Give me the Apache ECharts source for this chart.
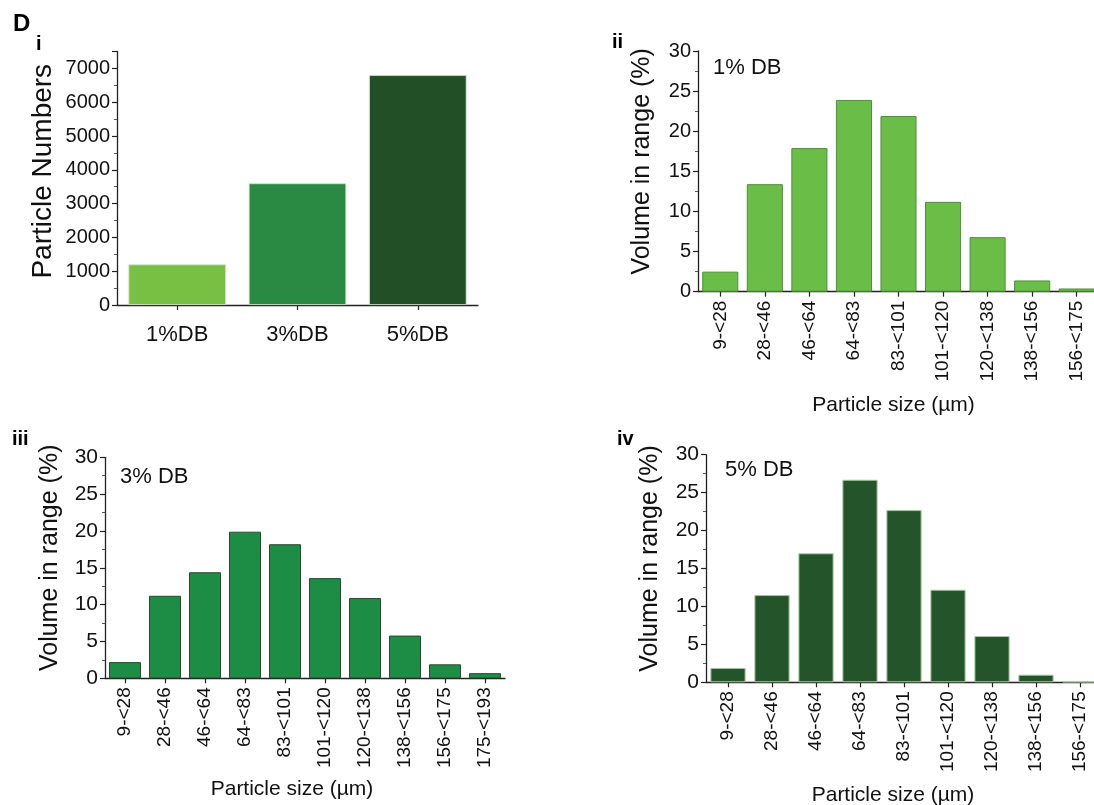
<!DOCTYPE html>
<html>
<head>
<meta charset="utf-8">
<script src="https://cdn.jsdelivr.net/npm/echarts@6/dist/echarts.min.js"></script>
<style>html,body{margin:0;padding:0;background:#fff}#c{width:1094px;height:805px}</style>
</head>
<body>
<div id="c"></div>
<script>
// ---- data ----
const groupCategories = ['1%DB', '3%DB', '5%DB'];
const particleNumbers = [1200, 3600, 6800];

const sizeBins9 = ['9-<28', '28-<46', '46-<64', '64-<83', '83-<101', '101-<120', '120-<138', '138-<156', '156-<175'];
const sizeBins10 = ['9-<28', '28-<46', '46-<64', '64-<83', '83-<101', '101-<120', '120-<138', '138-<156', '156-<175', '175-<193'];

const vol1 = [2.5, 13.4, 17.9, 23.9, 21.9, 11.2, 6.8, 1.4, 0.4];
const vol3 = [2.2, 11.2, 14.4, 19.9, 18.2, 13.6, 10.9, 5.8, 1.9, 0.7];
const vol5 = [1.9, 11.5, 17.0, 26.7, 22.7, 12.2, 6.1, 1.0, 0.1];

const FONT = "'Liberation Sans', Arial, Helvetica, sans-serif";
const INK = '#111';
const AX = '#222';

function valueAxis(gi, max, interval, name, nameGap, labelSize, nameSize, namePad) {
  return {
    gridIndex: gi, type: 'value', min: 0, max: max, interval: interval,
    name: name, nameLocation: 'middle', nameGap: nameGap,
    nameTextStyle: {fontFamily: FONT, fontSize: nameSize, color: INK, padding: namePad},
    axisLine: {show: true, lineStyle: {color: AX, width: 1.3}},
    axisTick: {show: true, length: 5, lineStyle: {color: AX, width: 1.2}},
    minorTick: {show: true, splitNumber: 2, length: 3, lineStyle: {color: '#555', width: 1}},
    splitLine: {show: false},
    axisLabel: {fontFamily: FONT, fontSize: labelSize, color: INK, margin: 7,
      showMaxLabel: max % interval === 0, formatter: v => String(v)}
  };
}
function catAxis(gi, data, rotate, labelSize, name, nameGap, namePad) {
  return {
    gridIndex: gi, type: 'category', data: data,
    name: name || '', nameLocation: 'middle', nameGap: nameGap || 0,
    nameTextStyle: {fontFamily: FONT, fontSize: 21, color: INK, padding: namePad || 0},
    axisLine: {show: true, lineStyle: {color: AX, width: 1.3}},
    axisTick: {show: true, alignWithLabel: true, length: 5, lineStyle: {color: AX, width: 1.2}},
    axisLabel: {fontFamily: FONT, fontSize: labelSize, color: INK, rotate: rotate, margin: rotate ? 9 : 19, interval: 0}
  };
}
const bold = s => ({fontFamily: FONT, fontSize: s, fontWeight: 'bold', color: '#000'});
const norm = s => ({fontFamily: FONT, fontSize: s, fontWeight: 'normal', color: INK});

const option = {
  animation: false,
  backgroundColor: '#fff',
  title: [
    {text: 'D', left: 8, top: 7, textStyle: bold(24)},
    {text: 'i', left: 31, top: 29, textStyle: bold(20)},
    {text: 'ii', left: 607, top: 27, textStyle: bold(20)},
    {text: 'iii', left: 7, top: 424, textStyle: bold(20)},
    {text: 'iv', left: 612, top: 424, textStyle: bold(20)},
    {text: '1% DB', left: 708, top: 52, textStyle: norm(22)},
    {text: '3% DB', left: 115, top: 461, textStyle: norm(22)},
    {text: '5% DB', left: 720, top: 454, textStyle: norm(22)}
  ],
  grid: [
    {left: 117, top: 51.5, width: 361, height: 253.5, outerBoundsMode: 'none', containLabel: false},
    {left: 698, top: 51, width: 401, height: 240.7, outerBoundsMode: 'none', containLabel: false},
    {left: 105, top: 457.3, width: 400, height: 221, outerBoundsMode: 'none', containLabel: false},
    {left: 706, top: 454.7, width: 396, height: 227.6, outerBoundsMode: 'none', containLabel: false}
  ],
  xAxis: [
    catAxis(0, groupCategories, 0, 22),
    catAxis(1, sizeBins9, 90, 19, 'Particle size (µm)', 103, [0, 10, 0, 0]),
    catAxis(2, sizeBins10, 90, 19, 'Particle size (µm)', 100, [0, 26, 0, 0]),
    catAxis(3, sizeBins9, 90, 19, 'Particle size (µm)', 102, [0, 22, 0, 0])
  ],
  yAxis: [
    valueAxis(0, 7500, 1000, 'Particle Numbers', 60, 20, 28, [0, 0, 0, 14]),
    valueAxis(1, 30, 5, 'Volume in range (%)', 43, 20, 25, [0, 0, 0, 20]),
    valueAxis(2, 30, 5, 'Volume in range (%)', 42, 21, 25, [0, 0, 0, 20]),
    valueAxis(3, 30, 5, 'Volume in range (%)', 43, 21, 25, [0, 0, 0, 20])
  ],
  series: [
    {type: 'bar', xAxisIndex: 0, yAxisIndex: 0, barCategoryGap: '19%',
     data: particleNumbers.map((v, i) => ({value: v, itemStyle: {color: ['#77c043', '#2a8943', '#224f26'][i]}})),
     itemStyle: {borderColor: '#cfe3c4', borderWidth: 0.8}},
    {type: 'bar', xAxisIndex: 1, yAxisIndex: 1, barCategoryGap: '19%', data: vol1,
     itemStyle: {color: '#6abd46', borderColor: '#4f8f3a', borderWidth: 1}},
    {type: 'bar', xAxisIndex: 2, yAxisIndex: 2, barCategoryGap: '20%', data: vol3,
     itemStyle: {color: '#1d8c45', borderColor: '#2a4a30', borderWidth: 1}},
    {type: 'bar', xAxisIndex: 3, yAxisIndex: 3, barCategoryGap: '20%', data: vol5,
     itemStyle: {color: '#24552a', borderColor: '#a9c4a2', borderWidth: 1}}
  ]
};
echarts.init(document.getElementById('c'), null, {renderer: 'canvas'}).setOption(option);
</script>
</body>
</html>
